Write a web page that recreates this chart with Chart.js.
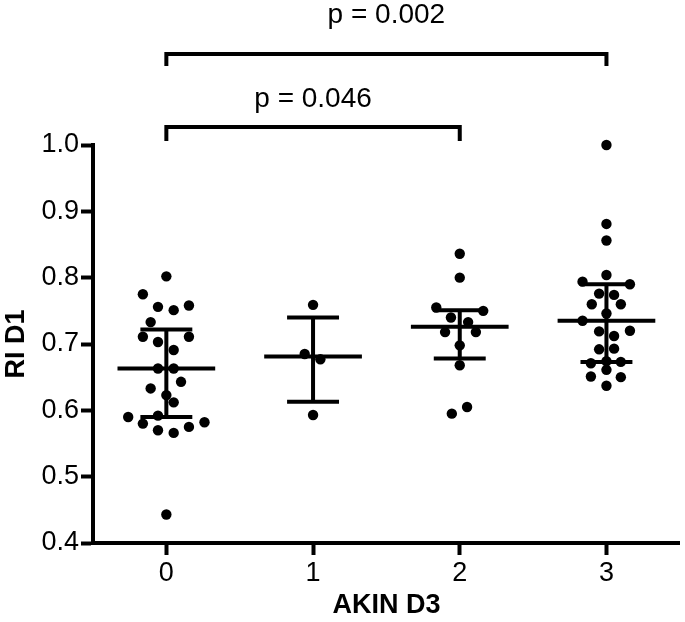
<!DOCTYPE html>
<html><head><meta charset="utf-8">
<script src="https://cdn.jsdelivr.net/npm/chart.js@4.4.1/dist/chart.umd.min.js"></script>
<style>html,body{margin:0;padding:0;background:#fff}</style>
</head><body>
<canvas id="c" width="685" height="622"></canvas>
<script>
// ---- data ----
const categories = ['0', '1', '2', '3'];
const yTickValues = [0.4, 0.5, 0.6, 0.7, 0.8, 0.9, 1.0];
const yTickLabels = ['0.4', '0.5', '0.6', '0.7', '0.8', '0.9', '1.0'];

const g0Values = [0.802, 0.775, 0.756, 0.751, 0.758, 0.733, 0.711, 0.711, 0.703, 0.691, 0.663, 0.663, 0.643, 0.633, 0.623, 0.612, 0.590, 0.592, 0.580, 0.575, 0.582, 0.570, 0.566, 0.443];
const g0Jitter = [0, -0.16, -0.057, 0.05, 0.154, -0.107, -0.16, 0.154, -0.057, 0.05, -0.057, 0.05, 0.10, -0.107, 0, 0.05, -0.26, -0.057, -0.16, 0.154, 0.26, -0.057, 0.05, 0];

const g1Values = [0.759, 0.685, 0.677, 0.593];
const g1Jitter = [0, -0.057, 0.05, 0];

const g2Values = [0.836, 0.800, 0.755, 0.750, 0.740, 0.733, 0.718, 0.718, 0.698, 0.668, 0.605, 0.595];
const g2Jitter = [0, 0, -0.16, 0.16, -0.06, 0.057, -0.10, 0.11, 0, 0, 0.05, -0.054];

const g3Values = [1.0, 0.881, 0.856, 0.804, 0.794, 0.790, 0.776, 0.774, 0.760, 0.760, 0.746, 0.735, 0.719, 0.720, 0.712, 0.692, 0.693, 0.671, 0.674, 0.673, 0.651, 0.661, 0.650, 0.637];
const g3Jitter = [0, 0, 0, 0, -0.163, 0.16, -0.05, 0.052, -0.1, 0.098, 0, -0.163, -0.05, 0.16, 0.052, -0.05, 0.052, -0.106, 0, 0.098, -0.106, 0, 0.098, 0];

const medians = [0.663, 0.681, 0.726, 0.735];
const q1 = [0.590, 0.613, 0.678, 0.673];
const q3 = [0.722, 0.740, 0.751, 0.790];

const bracketFrom = [0, 0];
const bracketTo = [3, 2];
const bracketLabels = ['p = 0.002', 'p = 0.046'];

// ---- build ----
const groups = [[g0Values, g0Jitter], [g1Values, g1Jitter], [g2Values, g2Jitter], [g3Values, g3Jitter]];
const dots = [];
groups.forEach(([vals, jit], gi) => vals.forEach((v, i) => dots.push({x: gi + jit[i], y: v})));

const MED_HALF = 0.333, Q_HALF = 0.177;
const medianLines = [], quartLines = [], vertLines = [];
categories.forEach((c, i) => {
  medianLines.push({x: i - MED_HALF, y: medians[i]}, {x: i + MED_HALF, y: medians[i]}, {x: i, y: null});
  quartLines.push({x: i - Q_HALF, y: q1[i]}, {x: i + Q_HALF, y: q1[i]}, {x: i, y: null});
  quartLines.push({x: i - Q_HALF, y: q3[i]}, {x: i + Q_HALF, y: q3[i]}, {x: i, y: null});
  vertLines.push({x: i, y: q1[i]}, {x: i, y: q3[i]}, {x: i, y: null});
});

// bracket levels (layout, in y data units above the axis top)
const bracketLevel = [1.137, 1.027];
const bracketDrop = [1.119, 1.006];
const bracketTextLevel = [1.195, 1.069];
const bracketLines = [];
bracketFrom.forEach((f, i) => {
  bracketLines.push({x: f, y: bracketDrop[i]}, {x: f, y: bracketLevel[i]}, {x: bracketTo[i], y: bracketLevel[i]}, {x: bracketTo[i], y: bracketDrop[i]}, {x: f, y: null});
});

const FONT = "'Liberation Sans', Arial, Helvetica, sans-serif";

const lineDs = (data, w) => ({type: 'line', data, borderColor: '#000', borderWidth: w, pointRadius: 0, spanGaps: false, fill: false, clip: false, borderCapStyle: 'butt', borderJoinStyle: 'miter', order: 2});

const textPlugin = {
  id: 'pText',
  afterDatasetsDraw(chart) {
    const {ctx, scales: {x, y}} = chart;
    ctx.save();
    ctx.fillStyle = '#000';
    ctx.font = '28px ' + FONT;
    ctx.textAlign = 'center';
    ctx.textBaseline = 'middle';
    bracketLabels.forEach((t, i) => {
      const px = x.getPixelForValue((bracketFrom[i] + bracketTo[i]) / 2);
      const py = y.getPixelForValue(bracketTextLevel[i]);
      ctx.fillText(t, px, py);
    });
    ctx.restore();
  }
};

new Chart(document.getElementById('c'), {
  type: 'scatter',
  data: {
    datasets: [
      lineDs(medianLines, 4),
      lineDs(quartLines, 4),
      lineDs(vertLines, 4),
      lineDs(bracketLines, 4),
      {type: 'scatter', data: dots, pointRadius: 5.2, pointHoverRadius: 5.2, pointBackgroundColor: '#000', pointBorderWidth: 0, borderColor: '#000', clip: false, order: 1}
    ]
  },
  options: {
    responsive: false,
    animation: false,
    devicePixelRatio: 1,
    layout: {padding: {top: 145, right: 4, left: 0, bottom: 0}},
    plugins: {legend: {display: false}, tooltip: {enabled: false}},
    scales: {
      x: {
        type: 'linear', min: -0.5, max: 3.5,
        afterBuildTicks: (ax) => { ax.ticks = categories.map((c, i) => ({value: i})); },
        afterFit: (ax) => { ax.height = 79; },
        ticks: {callback: (v) => categories[Math.round(v)], color: '#000', font: {family: FONT, size: 27}, padding: 2, maxRotation: 0, autoSkip: false},
        grid: {drawOnChartArea: false, drawTicks: true, tickLength: 12, tickWidth: 4, color: '#000'},
        border: {display: true, color: '#000', width: 4},
        title: {display: true, text: 'AKIN D3', color: '#000', font: {family: FONT, size: 27, weight: 'bold'}, padding: {top: 4, bottom: 0}}
      },
      y: {
        type: 'linear', min: 0.4, max: 1.0,
        afterBuildTicks: (ax) => { ax.ticks = yTickValues.map(v => ({value: v})); },
        afterFit: (ax) => { ax.width = 93; },
        ticks: {callback: (v) => yTickLabels[yTickValues.findIndex(t => Math.abs(t - v) < 1e-6)], color: '#000', font: {family: FONT, size: 27}, padding: 2},
        grid: {drawOnChartArea: false, drawTicks: true, tickLength: 12, tickWidth: 4, color: '#000'},
        border: {display: true, color: '#000', width: 4},
        title: {display: true, text: 'RI D1', color: '#000', font: {family: FONT, size: 27, weight: 'bold'}, padding: {top: 0, bottom: 2}}
      }
    }
  },
  plugins: [textPlugin]
});
</script>
</body></html>
